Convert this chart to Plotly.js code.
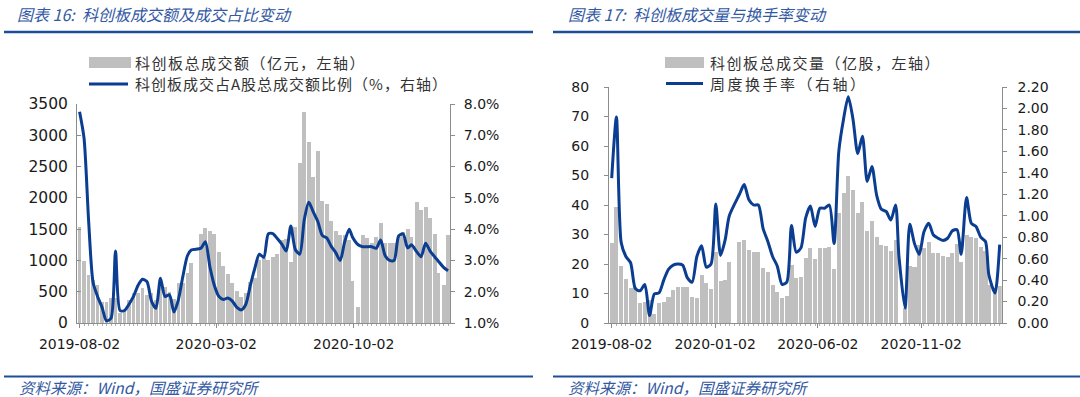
<!DOCTYPE html>
<html>
<head>
<meta charset="utf-8">
<script src="https://cdn.plot.ly/plotly-3.0.1.min.js"></script>
<style>
  html, body { margin: 0; padding: 0; background: #ffffff; }
  #chart { width: 1080px; height: 397px; }
</style>
</head>
<body>
<div id="chart"></div>
<script>
// ---------- data (weekly, last trading day of the week) ----------
const weekDates = [
  '2019-08-02','2019-08-09','2019-08-16','2019-08-23','2019-08-30',
  '2019-09-06','2019-09-13','2019-09-20','2019-09-27','2019-10-04',
  '2019-10-11','2019-10-18','2019-10-25','2019-11-01','2019-11-08',
  '2019-11-15','2019-11-22','2019-11-29','2019-12-06','2019-12-13',
  '2019-12-20','2019-12-27','2020-01-03','2020-01-10','2020-01-17',
  '2020-01-23',
  '2020-02-07','2020-02-14','2020-02-21','2020-02-28','2020-03-06',
  '2020-03-13','2020-03-20','2020-03-27','2020-04-03','2020-04-10',
  '2020-04-17','2020-04-24','2020-05-01','2020-05-08','2020-05-15',
  '2020-05-22','2020-05-29','2020-06-05','2020-06-12','2020-06-19',
  '2020-06-26','2020-07-03','2020-07-10','2020-07-17','2020-07-24',
  '2020-07-31','2020-08-07','2020-08-14','2020-08-21','2020-08-28',
  '2020-09-04','2020-09-11','2020-09-18','2020-09-25','2020-09-30',
  '2020-10-09','2020-10-16','2020-10-23','2020-10-30','2020-11-06',
  '2020-11-13','2020-11-20','2020-11-27','2020-12-04','2020-12-11',
  '2020-12-18','2020-12-25','2020-12-31','2021-01-08','2021-01-15',
  '2021-01-22','2021-01-29','2021-02-05','2021-02-10','2021-02-19',
  '2021-02-26'
];

// 科创板总成交额（亿元）
const turnoverAmount = [
  1540, 990, 770, 690, 600, 330, 330, 395, 395, 155,
  210, 370, 485, 475, 555, 450, 475, 370, 610, 570,
  500, 380, 645, 645, 795, 955,
  1423, 1525, 1476, 1423, 1140, 911, 778, 634, 517, 410,
  474, 661, 714, 1007, 1034, 1000, 1050, 1100, 1330, 1350,
  975, 1540, 2560, 3370, 2900, 2330, 2750, 1950, 1900, 1625,
  1475, 1400, 1400, 1325, 675, 255, 1400, 1354, 1274, 1375,
  1600, 1275, 1275, 1285, 1375, 1450, 1500, 1375, 1926, 1800,
  1850, 1675, 1425, 800, 600, 1400
];

// 科创板成交占A股总成交额比例（%）
const amountShare = [
  7.75, 6.9, 4.3, 2.3, 1.85, 1.5, 1.07, 1.15, 3.3, 1.4,
  1.4, 1.6, 1.85, 2.2, 2.4, 2.32, 1.7, 1.47, 2.43, 1.85,
  1.9, 1.35, 1.75, 2.5, 3.15, 3.33,
  3.39, 3.6, 2.8, 2.2, 1.85, 1.75, 1.8, 1.7, 1.5, 1.42,
  1.6, 2.2, 2.75, 3.2, 3.1, 3.85, 3.86, 3.7, 3.52, 3.3,
  4.1, 3.35, 3.2, 4.3, 4.86, 4.55, 4.25, 3.8, 3.72, 3.45,
  3.25, 3.0, 3.6, 4.0, 3.75, 3.5, 3.44, 3.44, 3.44, 3.39,
  3.65, 3.15, 3.0, 3.0, 3.78, 3.85, 3.4, 3.5, 3.28, 3.12,
  3.55, 3.3, 3.12, 3.0, 2.78, 2.67
];

// 科创板总成交量（亿股）
const turnoverVolume = [
  27.0, 39.4, 19.3, 14.8, 11.75, 12.1, 6.9, 7.2, 7.8, 3.0,
  6.7, 7.0, 8.7, 11.2, 12.3, 12.1, 12.1, 8.7, 8.4, 16.3,
  13.7, 11.4, 24.2, 14.4, 14.6, 20.8,
  27.3, 28.1, 24.7, 24.0, 24.0, 18.8, 17.2, 12.9, 10.6, 8.4,
  9.3, 19.7, 15.1, 15.7, 21.9, 25.3, 21.6, 25.3, 25.3, 25.6,
  18.3, 37.2, 44.0, 49.8, 45.0, 37.2, 40.9, 31.2, 34.6, 29.3,
  26.4, 26.2, 24.4, 28.1, null, 5.0, 19.3, 19.0, 26.4, 25.5,
  27.6, 23.6, 23.6, 22.8, 22.5, 23.6, 26.7, 20.8, 29.8, 29.3,
  28.7, 25.9, 24.4, 13.0, 12.0, 12.5
];

// 周度换手率（%）
const weeklyTurnoverRate = [
  1.35, 1.92, 0.75, 0.62, 0.56, 0.32, 0.30, 0.36, 0.07, 0.27,
  0.28, 0.40, 0.50, 0.54, 0.55, 0.54, 0.42, 0.38, 0.62, 0.72,
  0.52, 0.55, 1.11, 0.63, 0.78, 1.00,
  1.20, 1.29, 1.15, 1.10, 1.10, 0.88, 0.76, 0.62, 0.53, 0.36,
  0.38, 0.91, 0.66, 0.70, 0.98, 1.09, 0.90, 1.07, 1.07, 1.10,
  0.74, 1.60, 1.90, 2.11, 1.90, 1.58, 1.74, 1.32, 1.46, 1.19,
  1.06, 1.04, 0.96, 1.10, 0.62, 0.14, 0.92, 0.74, 0.64, 0.85,
  0.93, 0.82, 0.79, 0.77, 0.79, 0.86, 0.87, 0.64, 1.17, 0.93,
  0.90, 0.80, 0.76, 0.45, 0.28, 0.73
];

const leftTickDates  = ['2019-08-02', '2020-03-02', '2020-10-02'];
const rightTickDates = ['2019-08-02', '2020-01-02', '2020-06-02', '2020-11-02'];

const leftTitle   = '图表 16:  科创板成交额及成交占比变动';
const rightTitle  = '图表 17:  科创板成交量与换手率变动';
const sourceText  = '资料来源：Wind，国盛证券研究所';
const legendAmount = '科创板总成交额（亿元，左轴）';
const legendShare  = '科创板成交占A股总成交额比例（%，右轴）';
const legendVolume = '科创板总成交量（亿股，左轴）';
const legendRate   = '周度换手率（右轴）';

// ---------- style ----------
const W = 1080, H = 397;
const X = px => px / W;
const Y = py => 1 - py / H;
const BAR = '#BFBFBF';
const LINE = '#0B3D91';
const RULE = '#1F4E99';
const TITLE_C = '#3359A3';
const AXIS_C = '#8C8C8C';
const tickFont = { family: 'DejaVu Sans, Verdana, sans-serif', size: 14, color: '#1a1a1a' };
const cjk = 'Noto Sans CJK SC, sans-serif';
const DAY = 86400000;
const xRange = ['2019-07-29', '2021-03-01'];
const spaced = (t, s) => '<span style="letter-spacing:' + s + 'px">' + t + '</span>';

const traces = [
  { type: 'bar', x: weekDates, y: turnoverAmount, xaxis: 'x', yaxis: 'y',
    width: 6 * DAY, marker: { color: BAR, line: { width: 0 } }, name: legendAmount },
  { type: 'scatter', mode: 'lines', x: weekDates, y: amountShare, xaxis: 'x', yaxis: 'y2',
    line: { color: LINE, width: 3, shape: 'spline', smoothing: 0.7 }, name: legendShare },
  { type: 'bar', x: weekDates, y: turnoverVolume, xaxis: 'x2', yaxis: 'y3',
    width: 6 * DAY, marker: { color: BAR, line: { width: 0 } }, name: legendVolume },
  { type: 'scatter', mode: 'lines', x: weekDates, y: weeklyTurnoverRate, xaxis: 'x2', yaxis: 'y4',
    line: { color: LINE, width: 3, shape: 'spline', smoothing: 0.7 }, name: legendRate }
];

const xCommon = {
  type: 'date', range: xRange, tickformat: '%Y-%m-%d',
  showline: true, linecolor: AXIS_C, linewidth: 1,
  ticks: 'outside', ticklen: 4, tickcolor: AXIS_C,
  minor: { ticks: 'outside', ticklen: 2, tickcolor: '#B0B0B0', dtick: 7 * DAY, tick0: '2019-08-02', showgrid: false },
  showgrid: false, zeroline: false, tickfont: tickFont, ticklabelstandoff: 4, fixedrange: true
};
const yCommon = {
  showline: true, linecolor: AXIS_C, linewidth: 1, tickcolor: AXIS_C,
  showgrid: false, zeroline: false, tickfont: tickFont, fixedrange: true
};

const layout = {
  width: W, height: H,
  margin: { l: 0, r: 0, t: 0, b: 0 },
  paper_bgcolor: '#ffffff', plot_bgcolor: 'rgba(0,0,0,0)',
  showlegend: false, bargap: 0,
  xaxis: Object.assign({}, xCommon, { domain: [X(77), X(450)], anchor: 'y', tickvals: leftTickDates }),
  yaxis: Object.assign({}, yCommon, { domain: [Y(323), Y(104)], anchor: 'x', range: [0, 3500], dtick: 500,
    tickfont: Object.assign({}, tickFont, { size: 15.5 }),
    ticks: 'inside', ticklen: 4, ticklabelstandoff: 5 }),
  yaxis2: Object.assign({}, yCommon, { overlaying: 'y', side: 'right', anchor: 'x', range: [1, 8], dtick: 1,
    tickformat: '.1f', ticksuffix: '%', ticks: 'outside', ticklen: 4, ticklabelstandoff: 6 }),
  xaxis2: Object.assign({}, xCommon, { domain: [X(609), X(1001.7)], anchor: 'y3', tickvals: rightTickDates }),
  yaxis3: Object.assign({}, yCommon, { domain: [Y(323), Y(87)], anchor: 'x2', range: [0, 80], dtick: 10,
    ticks: 'outside', ticklen: 4, ticklabelstandoff: 12 }),
  yaxis4: Object.assign({}, yCommon, { overlaying: 'y3', side: 'right', anchor: 'x2', range: [0, 2.2], dtick: 0.2,
    tickformat: '.2f', ticks: 'outside', ticklen: 4, ticklabelstandoff: 8 }),
  shapes: [
    // header / footer rules
    { type: 'line', xref: 'paper', yref: 'paper', x0: X(4), x1: X(533), y0: Y(32), y1: Y(32), line: { color: RULE, width: 2.5 } },
    { type: 'line', xref: 'paper', yref: 'paper', x0: X(553), x1: X(1080), y0: Y(32), y1: Y(32), line: { color: RULE, width: 2.5 } },
    { type: 'line', xref: 'paper', yref: 'paper', x0: X(4), x1: X(533), y0: Y(376.5), y1: Y(376.5), line: { color: RULE, width: 2 } },
    { type: 'line', xref: 'paper', yref: 'paper', x0: X(553), x1: X(1080), y0: Y(376.5), y1: Y(376.5), line: { color: RULE, width: 2 } },
    // legend swatches
    { type: 'rect', xref: 'paper', yref: 'paper', x0: X(89), x1: X(131), y0: Y(68), y1: Y(57), fillcolor: BAR, line: { width: 0 } },
    { type: 'line', xref: 'paper', yref: 'paper', x0: X(89), x1: X(128), y0: Y(84), y1: Y(84), line: { color: LINE, width: 3 } },
    { type: 'rect', xref: 'paper', yref: 'paper', x0: X(665), x1: X(704), y0: Y(68), y1: Y(57), fillcolor: BAR, line: { width: 0 } },
    { type: 'line', xref: 'paper', yref: 'paper', x0: X(666), x1: X(703), y0: Y(83.5), y1: Y(83.5), line: { color: LINE, width: 3 } }
  ],
  annotations: [
    { xref: 'paper', yref: 'paper', x: X(15), y: Y(14), xanchor: 'left', yanchor: 'middle', showarrow: false,
      text: '<i>' + leftTitle + '</i>', font: { family: cjk, size: 16, color: TITLE_C } },
    { xref: 'paper', yref: 'paper', x: X(566), y: Y(14), xanchor: 'left', yanchor: 'middle', showarrow: false,
      text: '<i>' + rightTitle + '</i>', font: { family: cjk, size: 16, color: TITLE_C } },
    { xref: 'paper', yref: 'paper', x: X(17), y: Y(387), xanchor: 'left', yanchor: 'middle', showarrow: false,
      text: '<i>' + sourceText + '</i>', font: { family: cjk, size: 15.5, color: TITLE_C } },
    { xref: 'paper', yref: 'paper', x: X(566), y: Y(387), xanchor: 'left', yanchor: 'middle', showarrow: false,
      text: '<i>' + sourceText + '</i>', font: { family: cjk, size: 15.5, color: TITLE_C } },
    { xref: 'paper', yref: 'paper', x: X(133), y: Y(62), xanchor: 'left', yanchor: 'middle', showarrow: false,
      text: spaced(legendAmount, 1.5), font: { family: cjk, size: 15, color: '#333333' } },
    { xref: 'paper', yref: 'paper', x: X(133), y: Y(84), xanchor: 'left', yanchor: 'middle', showarrow: false,
      text: spaced(legendShare, 1), font: { family: cjk, size: 15, color: '#333333' } },
    { xref: 'paper', yref: 'paper', x: X(708), y: Y(62), xanchor: 'left', yanchor: 'middle', showarrow: false,
      text: spaced(legendVolume, 1.5), font: { family: cjk, size: 15, color: '#333333' } },
    { xref: 'paper', yref: 'paper', x: X(708), y: Y(84), xanchor: 'left', yanchor: 'middle', showarrow: false,
      text: spaced(legendRate, 2.5), font: { family: cjk, size: 15, color: '#333333' } }
  ]
};

Plotly.newPlot('chart', traces, layout, { staticPlot: true, displayModeBar: false });
</script>
</body>
</html>
